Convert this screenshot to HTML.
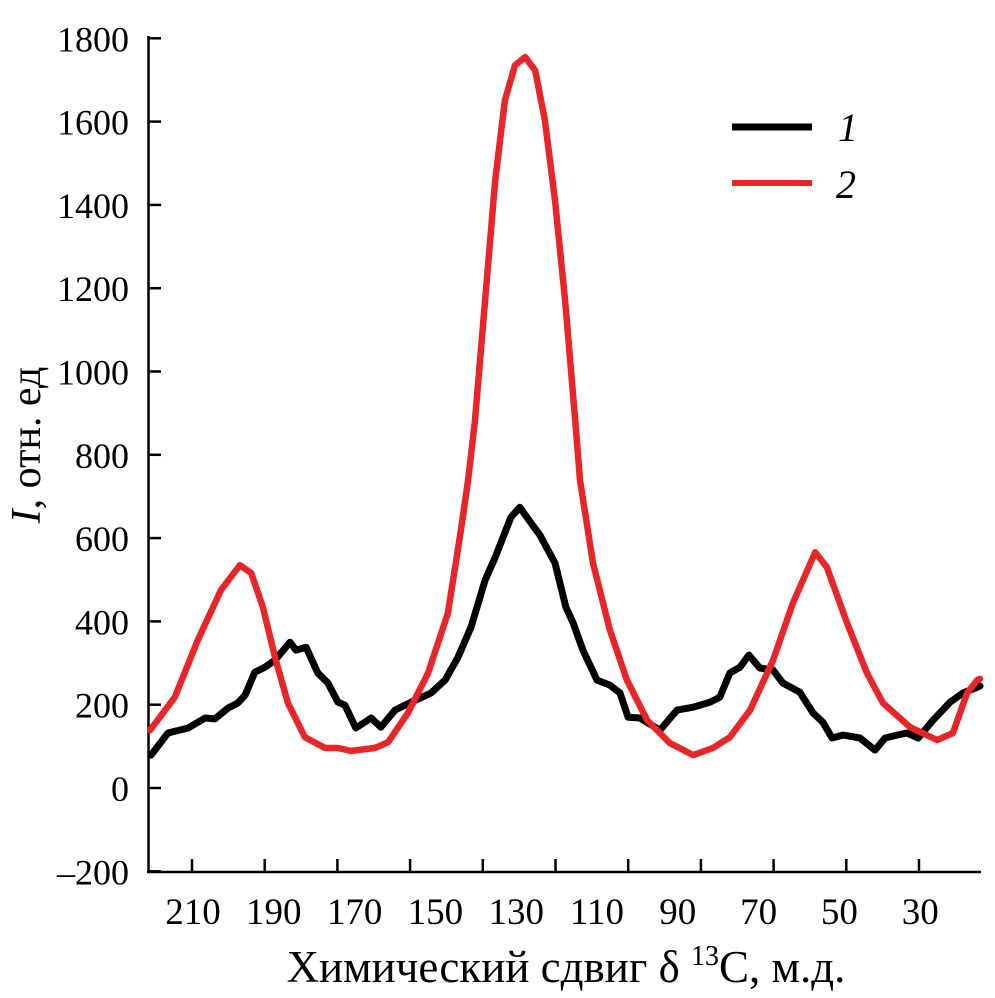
<!DOCTYPE html>
<html><head><meta charset="utf-8"><style>
html,body{margin:0;padding:0;background:#fff;}
svg{display:block;font-family:"Liberation Serif",serif;}
</style></head><body>
<svg width="995" height="998" viewBox="0 0 995 998">
<g id="axes"></g>
<g id="series"></g>
<g>
<line x1="732" y1="127" x2="812" y2="127" stroke="#000" stroke-width="7"/>
<text x="838" y="141" font-size="40" font-style="italic">1</text>
<line x1="732" y1="183" x2="812" y2="183" stroke="#e8262a" stroke-width="6"/>
<text x="836" y="198" font-size="40" font-style="italic">2</text>
</g>
<text transform="translate(40,445) rotate(-90)" text-anchor="middle" font-size="42"><tspan font-style="italic">I</tspan>, отн. ед</text>
<text x="566" y="982" text-anchor="middle" font-size="45">Химический сдвиг δ <tspan font-size="28" dy="-17">13</tspan><tspan dy="17">C, м.д.</tspan></text>
</svg>
<script>
const yTicks=[-200,0,200,400,600,800,1000,1200,1400,1600,1800];
const xLabels=[210,190,170,150,130,110,90,70,50,30];
const xTickCount=11;
const ppm1=[220.4,216.2,211.2,207.0,204.6,201.3,198.9,197.1,194.7,192.2,189.7,186.0,184.5,182.0,179.1,176.6,174.1,172.4,169.7,165.9,163.5,160.0,156.0,151.1,147.6,144.4,141.2,137.7,135.2,131.3,129.1,126.3,124.1,120.4,117.7,115.9,113.5,110.0,106.8,104.3,102.3,99.4,94.4,90.2,86.2,82.0,79.6,77.1,74.6,72.4,69.7,66.4,64.0,59.8,56.5,54.1,51.8,49.1,44.9,41.2,38.7,35.7,33.3,30.5,26.8,22.6,19.4,15.9,15.2];
const int1=[79,132,144,168,166,192,204,223,278,290,307,350,331,338,276,252,206,199,144,168,146,187,206,228,259,314,386,499,554,650,674,636,607,540,434,396,331,259,247,228,170,168,139,187,194,206,218,276,290,319,288,283,252,230,180,158,120,127,120,91,120,127,132,120,163,206,228,242,245];
const ppm2=[220.6,214.5,208.8,203.1,198.4,195.6,192.7,189.7,186.5,182.3,177.3,174.1,170.9,165.0,161.7,156.8,151.8,146.9,143.7,141.9,140.2,137.7,135.2,132.8,130.3,127.8,125.3,122.9,120.4,117.9,115.4,114.2,111.0,106.8,102.6,97.6,92.0,86.2,81.3,77.1,72.1,66.4,61.5,56.0,53.1,48.1,43.2,39.2,32.5,25.8,21.9,18.4,15.9,15.2];
const int2=[139,218,355,475,535,516,434,314,204,122,96,96,89,96,110,180,276,420,619,739,883,1171,1459,1651,1735,1755,1723,1603,1411,1171,883,739,540,379,259,163,108,79,96,122,187,307,444,566,530,396,276,204,146,115,132,228,259,262];
const NS='http://www.w3.org/2000/svg';
function X(p){return 193+(210-p)*4.04;}
function Y(v){return 788-v*0.4165;}
const axes=document.getElementById('axes');
function mk(tag,attrs,parent){const e=document.createElementNS(NS,tag);for(const k in attrs)e.setAttribute(k,attrs[k]);parent.appendChild(e);return e;}
let e=mk('line',{x1:148.5,y1:36,x2:148.5,y2:873,stroke:'#000','stroke-width':2.5},axes);


e=mk('line',{x1:147,y1:872,x2:981,y2:872,stroke:'#000','stroke-width':2.5},axes);


yTicks.forEach(v=>{
  const y=Y(v);
  const t=mk('line',{x1:148,y1:y,x2:161,y2:y,stroke:'#000','stroke-width':2.5},axes);
  
  
  const l=mk('text',{x:129,y:y+13,'text-anchor':'end','font-size':36},axes);
  l.textContent=(v<0?'\u2013'+(-v):v);
  
  
});
for(let i=0;i<xTickCount;i++){
  const x=192+i*72.7;
  const t=mk('line',{x1:x,y1:859,x2:x,y2:872,stroke:'#000','stroke-width':2.5},axes);
  
  
}
xLabels.forEach(v=>{
  const l=mk('text',{x:X(v),y:924,'text-anchor':'middle','font-size':37},axes);
  l.textContent=v;
  
  
});
const ser=document.getElementById('series');
function draw(ppm,vals,color,w,name){
  const d=ppm.map((p,i)=>(i?'L':'M')+X(p).toFixed(1)+','+Y(vals[i]).toFixed(1)).join(' ');
  const p=mk('path',{d:d,fill:'none',stroke:color,'stroke-width':w,'stroke-linejoin':'round','stroke-linecap':'round'},ser);
  
  
}
draw(ppm1,int1,'#000',7,'series-1-line');
draw(ppm2,int2,'#e8262a',6.5,'series-2-line');
</script>
</body></html>
